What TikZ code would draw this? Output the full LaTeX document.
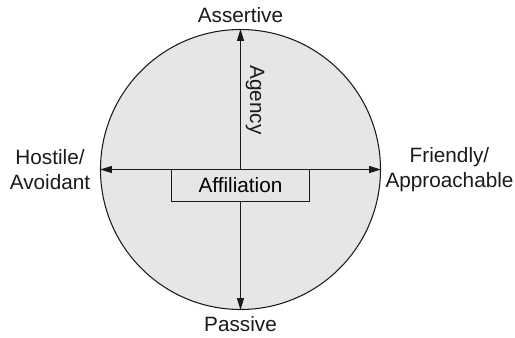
\documentclass[tikz,border=0pt]{standalone}
\usepackage{fontspec}
\setmainfont{Liberation Sans}
\usepackage{tikz}
\usetikzlibrary{arrows.meta, positioning}
\definecolor{cfill}{HTML}{E6E6E7}
\definecolor{cline}{HTML}{1A1A1A}
\tikzset{
  circ/.style={draw=cline, fill=cfill, circle, minimum size=5.6cm, inner sep=0pt, line width=0.6pt},
  axis/.style={{Triangle[length=2.4mm,width=1.4mm]}-{Triangle[length=2.4mm,width=1.4mm]}, line width=0.6pt, cline},
  lbox/.style={draw=cline, fill=cfill, minimum width=2.76cm, minimum height=0.64cm, inner sep=0pt, line width=0.6pt},
  lbl/.style={text=cline, inner sep=0pt, align=center},
}

\begin{document}
\begin{tikzpicture}[every node/.style={font=\fontsize{11.8}{14}\selectfont}]
  \useasboundingbox (-4.81,-3.35) rectangle (5.49,3.39);

  \node[circ] (wheel) at (0,0) {};

  % axes
  \draw[axis] (wheel.west) -- (wheel.east);
  \draw[axis] (wheel.north) -- (wheel.south);

  \node[lbox] (affil) at (0,-0.32) {Affiliation};
  \node[lbl, rotate=-90] (agency) at (0.29,1.39) {Agency};

  % poles
  \node[lbl] (assert) at (0,3.08) {Assertive};
  \node[lbl] (passive) at (0,-3.09) {Passive};
  \node[lbl] (hostile) at (-3.81,0) {Hostile/\\Avoidant};
  \node[lbl] (friendly) at (4.18,0) {Friendly/\\Approachable};
\end{tikzpicture}
\end{document}
